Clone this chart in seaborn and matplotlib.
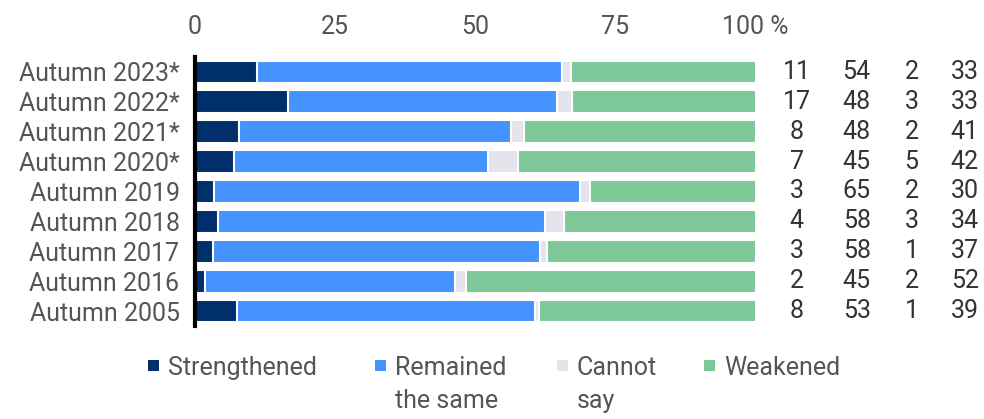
import seaborn as sns
import matplotlib.pyplot as plt
import pandas as pd
from matplotlib.patches import Rectangle

# Survey periods (top to bottom)
periods = ['Autumn 2023*', 'Autumn 2022*', 'Autumn 2021*', 'Autumn 2020*',
           'Autumn 2019', 'Autumn 2018', 'Autumn 2017', 'Autumn 2016', 'Autumn 2005']

# Shares in %
strengthened = [11.0, 16.6, 7.9, 6.9, 3.4, 4.1, 3.2, 1.8, 7.6]
remained = [54.4, 47.9, 48.4, 45.3, 65.2, 58.4, 58.4, 44.6, 53.0]
cannot_say = [1.6, 2.8, 2.3, 5.4, 1.8, 3.3, 1.2, 2.0, 0.8]
weakened = [33.0, 32.7, 41.4, 42.4, 29.6, 34.2, 37.2, 51.6, 38.6]

series = ['Strengthened', 'Remained\nthe same', 'Cannot\nsay', 'Weakened']
colors = ['#002F6C', '#4493FF', '#E5E4EC', '#7DC799']
ticks = [0, 25, 50, 75, 100]
tick_labels = ['0', '25', '50', '75', '100 %']

df = pd.DataFrame({'period': periods, 's': strengthened, 'r': remained,
                   'c': cannot_say, 'w': weakened})
df['cum_s'] = df['s']
df['cum_r'] = df['cum_s'] + df['r']
df['cum_c'] = df['cum_r'] + df['c']
df['cum_w'] = df['cum_c'] + df['w']

sns.set_style('white')
plt.rcParams['font.family'] = ['Roboto', 'DejaVu Sans']
txt = '#555555'
fs = 18

fig = plt.figure(figsize=(9.84, 4.19), dpi=100)
ax = fig.add_axes([0.198, 0.222, 0.570, 0.642])

# stacked bars: draw cumulative totals, largest first
for col, color in zip(['cum_w', 'cum_c', 'cum_r', 'cum_s'], colors[::-1]):
    sns.barplot(data=df, x=col, y='period', order=periods, color=color,
                width=0.76, edgecolor='white', linewidth=1.5, ax=ax,
                saturation=1)

ax.set_xlim(0, 100)
ax.set_ylim(8.5, -0.5)
ax.xaxis.tick_top()
ax.set_xticks(ticks)
ax.set_xticklabels(tick_labels)
ax.tick_params(axis='both', length=0, labelsize=fs, colors=txt)
ax.tick_params(axis='y', pad=11)
ax.tick_params(axis='x', pad=13)
ax.set_xlabel('')
ax.set_ylabel('')
for side in ['top', 'right', 'bottom']:
    ax.spines[side].set_visible(False)
ax.spines['left'].set_color('black')
ax.spines['left'].set_linewidth(3)
ax.spines['left'].set_zorder(5)

# value columns to the right
col_x = [1.073, 1.180, 1.278, 1.373]
trans = ax.get_yaxis_transform()
for i, row in df.iterrows():
    for xpos, key in zip(col_x, ['s', 'r', 'c', 'w']):
        ax.text(xpos, i, f"{row[key]:.0f}", transform=trans, ha='center',
                va='center', fontsize=fs, color='#333333')

# legend below: square key + label, labels hang from the top
key_x = [148, 375, 557, 704]
for kx, label, color in zip(key_x, series, colors):
    fig.patches.append(Rectangle((kx / 984, 1 - 371 / 419), 11 / 984, 11 / 419,
                                 transform=fig.transFigure, facecolor=color,
                                 edgecolor='none'))
    fig.text((kx + 20) / 984, 1 - 356 / 419, label, ha='left', va='top',
             fontsize=fs, color=txt, linespacing=1.45)

fig.savefig('out.png', dpi=100, facecolor='white')
plt.close(fig)
